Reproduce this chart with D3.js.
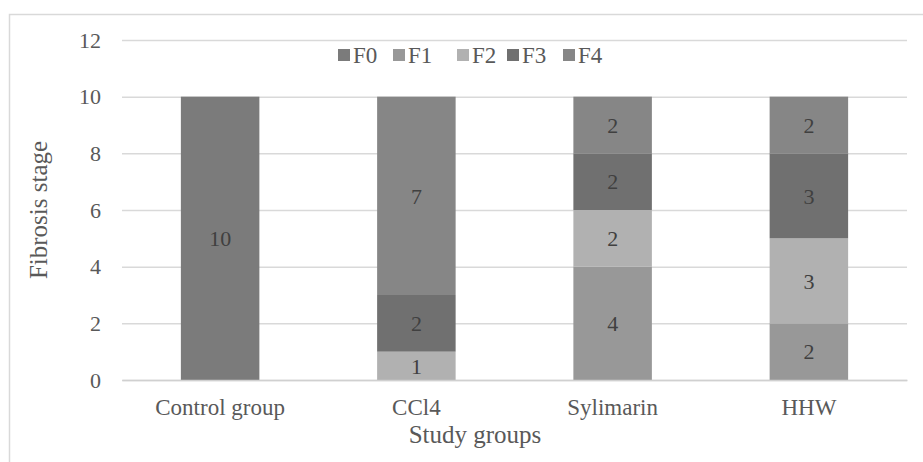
<!DOCTYPE html>
<html><head><meta charset="utf-8">
<script src="https://cdn.jsdelivr.net/npm/d3@7"></script>
<style>
body{margin:0;background:#fff}
svg{display:block}
svg text{font-family:"Liberation Serif","Times New Roman",Tinos,serif !important;}
</style>
</head><body>
<svg id="c" width="923" height="462"></svg>
<script>
const categories = ["Control group", "CCl4", "Sylimarin", "HHW"];
const seriesNames = ["F0", "F1", "F2", "F3", "F4"];
const F0 = [10, 0, 0, 0];
const F1 = [0, 0, 4, 2];
const F2 = [0, 1, 2, 3];
const F3 = [0, 2, 2, 3];
const F4 = [0, 7, 2, 2];
const yTicks = [0, 2, 4, 6, 8, 10, 12];
const colors = ["#7b7b7b", "#989898", "#b1b1b1", "#707070", "#868686"];

(function () {
const svg = d3.select("#c");
svg.append("rect").attr("x", 9.5).attr("y", 14.5).attr("width", 930).attr("height", 460)
  .attr("fill", "#fff").attr("stroke", "#d9d9d9").attr("stroke-width", 1.5);

const pLeft = 122, pRight = 907, pTop = 40, pBottom = 380;
const x = d3.scaleBand().domain(categories).range([pLeft, pRight]).paddingInner(0.6).paddingOuter(0.3);
const y = d3.scaleLinear().domain([0, 12]).range([pBottom, pTop]);

const table = categories.map((c, i) => ({cat: c, F0: F0[i], F1: F1[i], F2: F2[i], F3: F3[i], F4: F4[i]}));
const stacked = d3.stack().keys(seriesNames)(table);

const yAxis = d3.axisLeft(y).tickValues(yTicks).tickSize(-(pRight - pLeft)).tickPadding(21);
const ga = svg.append("g").attr("transform", `translate(${pLeft},0)`).call(yAxis);
ga.attr("font-family", null);
ga.select(".domain").remove();
ga.selectAll(".tick line").attr("stroke", "#d9d9d9").attr("stroke-width", 1.5);
ga.selectAll(".tick text").style("font-size", "22px").attr("fill", "#595959");

const g = svg.append("g");
stacked.forEach((s, si) => {
  const segs = s.filter(d => d[1] - d[0] > 0);
  g.selectAll(null).data(segs).enter().append("rect")
    .attr("x", d => x(d.data.cat)).attr("width", x.bandwidth())
    .attr("y", d => y(d[1])).attr("height", d => y(d[0]) - y(d[1]))
    .attr("fill", colors[si]);
  g.selectAll(null).data(segs).enter().append("text")
    .attr("x", d => x(d.data.cat) + x.bandwidth() / 2)
    .attr("y", d => (y(d[0]) + y(d[1])) / 2).attr("dy", "0.35em")
    .attr("text-anchor", "middle").style("font-size", "22px")
    .attr("fill", "#404040").text(d => d[1] - d[0]);
});

const xAxis = d3.axisBottom(x).tickSize(0).tickPadding(19);
const gx = svg.append("g").attr("transform", `translate(0,${pBottom})`).call(xAxis);
gx.attr("font-family", null);
gx.select(".domain").attr("stroke", "#d0d0d0").attr("stroke-width", 1.5);
gx.selectAll(".tick text").style("font-size", "23px").attr("fill", "#595959");

svg.append("text").attr("x", 475).attr("y", 443).attr("text-anchor", "middle")
  .style("font-size", "25px").attr("fill", "#595959").text("Study groups");
svg.append("text").attr("transform", `translate(47,${(pTop + pBottom) / 2}) rotate(-90)`)
  .attr("text-anchor", "middle").style("font-size", "25px")
  .attr("fill", "#595959").text("Fibrosis stage");

const legendX = [338, 393, 457, 507, 563];
const lg = svg.append("g");
seriesNames.forEach((n, i) => {
  lg.append("rect").attr("x", legendX[i]).attr("y", 49).attr("width", 12).attr("height", 12).attr("fill", colors[i]);
  lg.append("text").attr("x", legendX[i] + 15).attr("y", 55).attr("dy", "0.35em")
    .style("font-size", "23px").attr("fill", "#595959").text(n);
});
})();
</script>
</body></html>
